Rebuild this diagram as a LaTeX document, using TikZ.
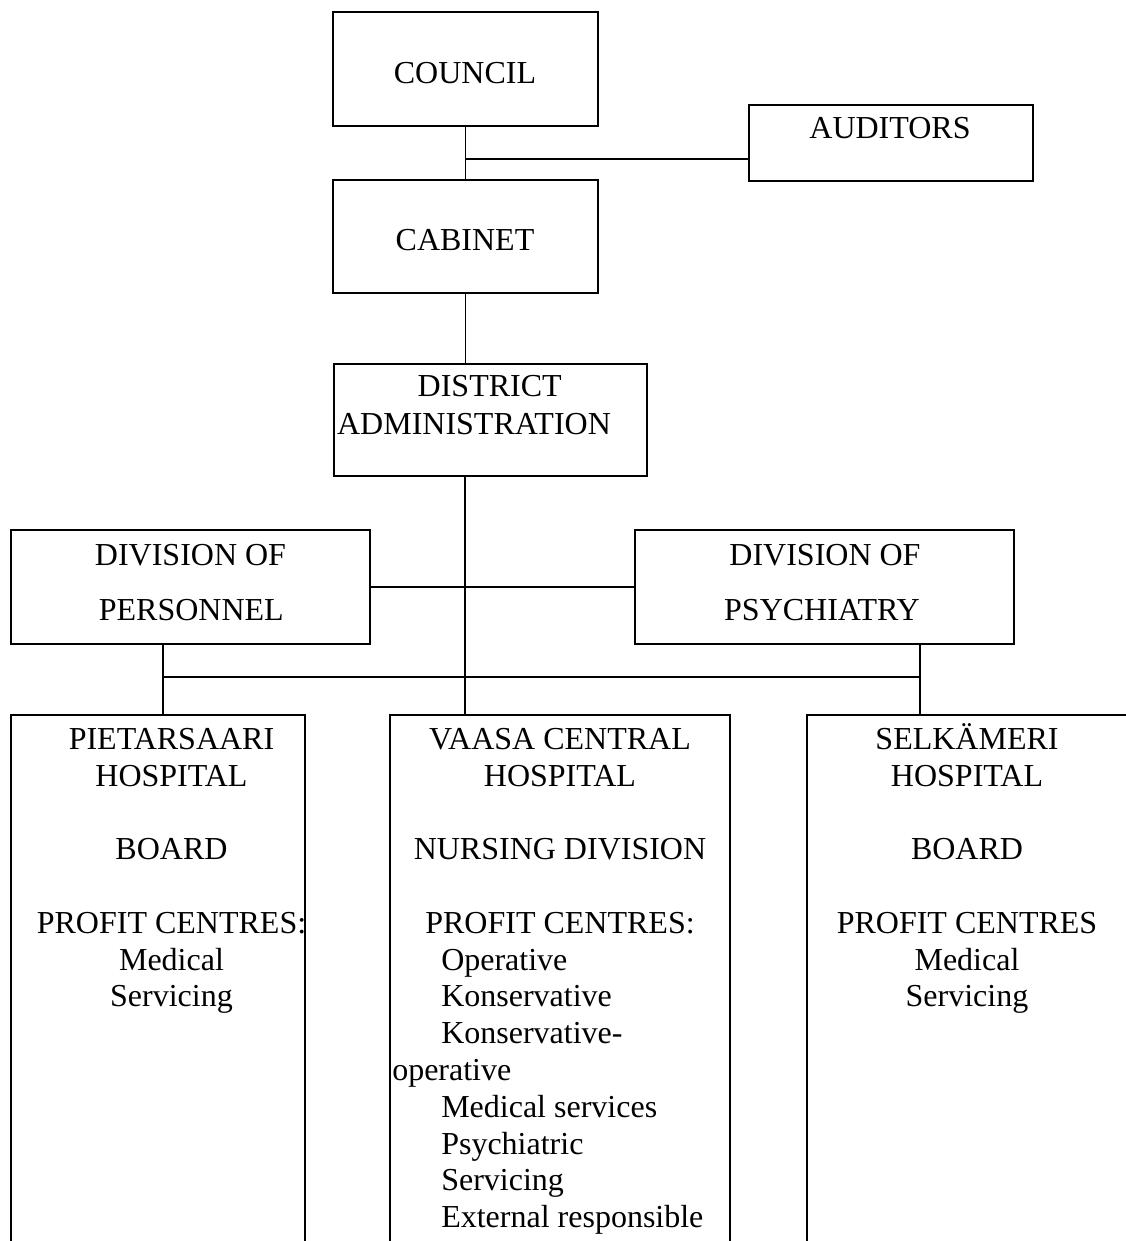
\documentclass[tikz,border=0pt]{standalone}
\usepackage{fontspec}
\setmainfont{Liberation Serif}
\begin{document}
\begin{tikzpicture}[x=0.75pt,y=-0.75pt,
  box/.style={draw=black,line width=1.4pt,rectangle,inner sep=0pt},
  link/.style={draw=black,line width=1pt},
  txt/.style={inner sep=0pt,font=\fontsize{24}{27.6}\selectfont,align=center,anchor=base}]
\useasboundingbox (0,0) rectangle (1125,1241);
% boxes
\node[box,minimum width=265*0.75pt,minimum height=114*0.75pt] (council) at (465.5,69) {};
\node[box,minimum width=284*0.75pt,minimum height=76*0.75pt] (auditors) at (891,143) {};
\node[box,minimum width=265*0.75pt,minimum height=113*0.75pt] (cabinet) at (465.5,236.5) {};
\node[box,minimum width=313*0.75pt,minimum height=112*0.75pt] (district) at (490.5,420) {};
\node[box,minimum width=359*0.75pt,minimum height=114*0.75pt] (personnel) at (190.5,587) {};
\node[box,minimum width=379*0.75pt,minimum height=114*0.75pt] (psychiatry) at (824.5,587) {};
% open hospital boxes
\node[inner sep=0pt,minimum width=294*0.75pt,minimum height=535*0.75pt] (pietarsaari) at (158,982.5) {};
\node[inner sep=0pt,minimum width=340*0.75pt,minimum height=535*0.75pt] (vaasa) at (560,982.5) {};
\node[inner sep=0pt,minimum width=326*0.75pt,minimum height=535*0.75pt] (selkameri) at (970,982.5) {};
\foreach \h in {pietarsaari,vaasa,selkameri}
  \draw[line width=1.4pt] (\h.south west) -- (\h.north west) -- (\h.north east) -- (\h.south east);
% texts (multi-line nodes are placed by the baseline of their last line)
\node[txt] (tcouncil) at (465,84) {COUNCIL};
\node[txt] (tauditors) at (890,138.3) {AUDITORS};
\node[txt] (tcabinet) at (465,250) {CABINET};
\node[txt] (tdistrict1) at (489.7,396.7) {DISTRICT};
\node[txt] (tdistrict2) at (474,434) {ADMINISTRATION};
\node[txt] (tpers1) at (190.5,565) {DIVISION OF};
\node[txt] (tpers2) at (191.3,620) {PERSONNEL};
\node[txt] (tpsy1) at (825,565) {DIVISION OF};
\node[txt] (tpsy2) at (822,620) {PSYCHIATRY};
\node[txt] (tpiet) at (171.5,1006.9) {PIETARSAARI\\HOSPITAL\\[27.6pt]BOARD\\[27.6pt]PROFIT CENTRES:\\Medical\\Servicing};
\node[txt] (tvaasa) at (560,933.3) {VAASA CENTRAL\\HOSPITAL\\[27.6pt]NURSING DIVISION\\[27.6pt]PROFIT CENTRES:};
\node[txt,align=left,anchor=base west] (tvaasa2) at (441,1227.7) {Operative\\Konservative\\Konservative-\\\hspace*{-36.75pt}operative\\Medical services\\Psychiatric\\Servicing\\External responsible};
\node[txt] (tselk) at (967,1006.9) {SELKÄMERI\\HOSPITAL\\[27.6pt]BOARD\\[27.6pt]PROFIT CENTRES\\Medical\\Servicing};
% connectors
\coordinate (j1) at (465,159);
\coordinate (busL) at (163,677);
\coordinate (busR) at (920,677);
\draw[link] (council.south) -- (cabinet.north);
\draw[link] (j1) -- (j1 -| auditors.west);
\draw[link] (cabinet.south) -- (cabinet.south |- district.north);
\draw[link] (j1 |- district.south) -- (j1 |- vaasa.north);
\draw[link] (personnel.east) -- (psychiatry.west);
\draw[link] (busL) -- (busR);
\draw[link] (busL |- personnel.south) -- (busL |- pietarsaari.north);
\draw[link] (busR |- psychiatry.south) -- (busR |- selkameri.north);
\end{tikzpicture}
\end{document}
